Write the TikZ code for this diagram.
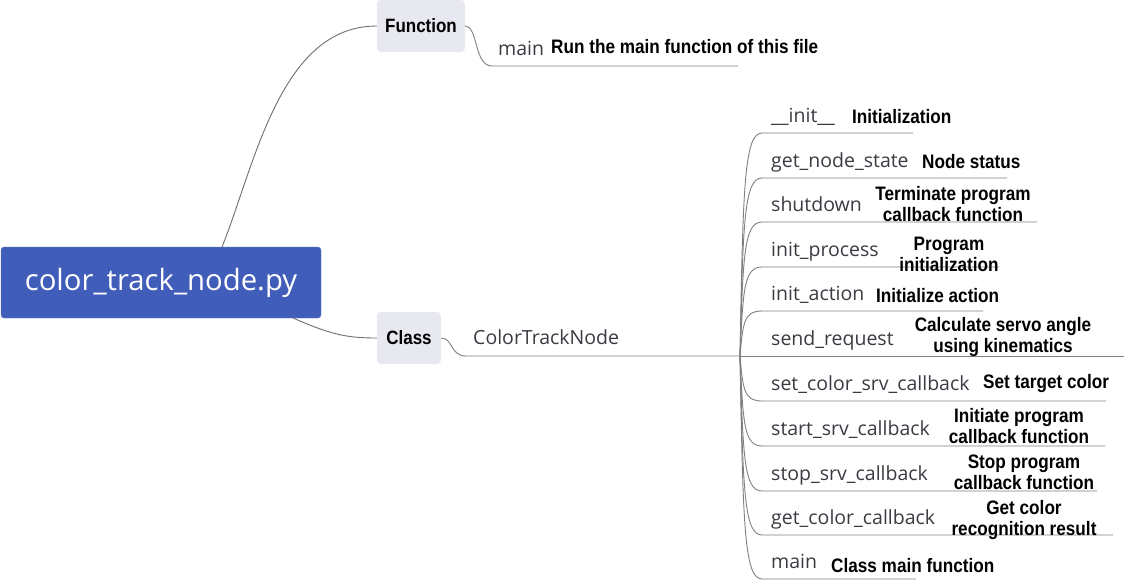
\documentclass[tikz,border=0pt]{standalone}
\usepackage{fontspec}
\setmainfont{Open Sans}
\newfontfamily\arialf{Liberation Sans}[FakeStretch=0.88]
\definecolor{rootblue}{RGB}{64,93,185}
\definecolor{catgray}{RGB}{232,233,240}
\definecolor{linegray}{RGB}{110,110,110}
\definecolor{ulgray}{RGB}{128,128,128}
\definecolor{methcol}{RGB}{58,58,66}
\tikzset{
  rootbox/.style={fill=rootblue, draw=rootblue!80!white, rounded corners=3pt, minimum width=320pt, minimum height=71pt, inner sep=0pt, text=white, font=\fontsize{29.3}{34}\selectfont},
  catbox/.style={fill=catgray, draw=none, rounded corners=4pt, minimum height=52pt, inner sep=0pt, font=\arialf\bfseries\fontsize{19.3}{22}\selectfont},
  meth/.style={anchor=base west, inner sep=0pt, text=methcol, font=\fontsize{19.5}{22}\selectfont},
  desc/.style={inner sep=0pt, align=center, font=\arialf\bfseries\fontsize{19.5}{20.5}\selectfont},
  link/.style={draw=linegray, line width=0.9pt},
  uline/.style={draw=ulgray, line width=0.9pt}
}
\begin{document}
\begin{tikzpicture}[x=1pt,y=-1pt]
\useasboundingbox (0,0) rectangle (1124,581);
% main nodes
\node[rootbox] (root) at (161,282.5) {color\_track\_node.py};
\node[catbox, minimum width=88pt] (func) at (421,26) {Function};
\node[catbox, minimum width=64pt] (cls) at (409,338) {Class};
% connectors from root
\coordinate (rt) at (222,247);
\coordinate (rb) at (293,318);
\draw[link] (rt) .. controls (255,165) and (280,26) .. (func.west);
\draw[link] (rb) .. controls (330,334) and (345,338) .. (cls.west);
% Function branch
\coordinate (fs) at (492,66);
\coordinate (fe) at (738,66);
\draw[uline] (func.east) .. controls (478,26) and (474,66) .. (fs) -- (fe);
\node[meth] (fmain) at (498,55) {main};
\node[desc, anchor=base west] (fmaind) at (551,53) {Run the main function of this file};
% Class branch
\coordinate (cs) at (466,356);
\coordinate (hub) at (740,356);
\draw[uline] (cls.east) .. controls (453,338) and (450,356) .. (cs) -- (hub);
\node[meth] (ctn) at (473,344) {ColorTrackNode};
% children of ColorTrackNode
\foreach \n/\y/\xe in {a/133/913, b/178/1007, c/222/1037, d/267/999, e/311/983, g/401/1106, h/446/1105, i/491/1097, j/535/1113, k/579/916}{
  \coordinate (s\n) at (762,\y);
  \coordinate (e\n) at (\xe,\y);
  \draw[uline] (hub) .. controls (743,{\y+(356-\y)*0.25}) and (744,\y) .. (s\n) -- (e\n);
}
\coordinate (ef) at (1124,356);
\draw[uline] (hub) -- (ef);
% method names
\node[meth] (ma) at (771,122) {\_\_init\_\_};
\node[meth] (mb) at (771,167) {get\_node\_state};
\node[meth] (mc) at (771,211) {shutdown};
\node[meth] (md) at (771,256) {init\_process};
\node[meth] (me) at (771,300) {init\_action};
\node[meth] (mf) at (771,345) {send\_request};
\node[meth] (mg) at (771,390) {set\_color\_srv\_callback};
\node[meth] (mh) at (771,435) {start\_srv\_callback};
\node[meth] (mi) at (771,480) {stop\_srv\_callback};
\node[meth] (mj) at (771,524) {get\_color\_callback};
\node[meth] (mk) at (771,568) {main};
% descriptions (base = baseline of last line)
\node[desc, anchor=base west] (da) at (852,123) {Initialization};
\node[desc, anchor=base west] (db) at (922,168) {Node status};
\node[desc, anchor=base] (dc) at (953,221) {Terminate program\\callback function};
\node[desc, anchor=base] (dd) at (949,271) {Program\\initialization};
\node[desc, anchor=base west] (de) at (876,302) {Initialize action};
\node[desc, anchor=base] (df) at (1003,352) {Calculate servo angle\\using kinematics};
\node[desc, anchor=base west] (dg) at (983,388) {Set target color};
\node[desc, anchor=base] (dh) at (1019,443) {Initiate program\\callback function};
\node[desc, anchor=base] (di) at (1024,489) {Stop program\\callback function};
\node[desc, anchor=base] (dj) at (1024,535) {Get color\\recognition result};
\node[desc, anchor=base west] (dk) at (831,572) {Class main function};
\end{tikzpicture}
\end{document}
